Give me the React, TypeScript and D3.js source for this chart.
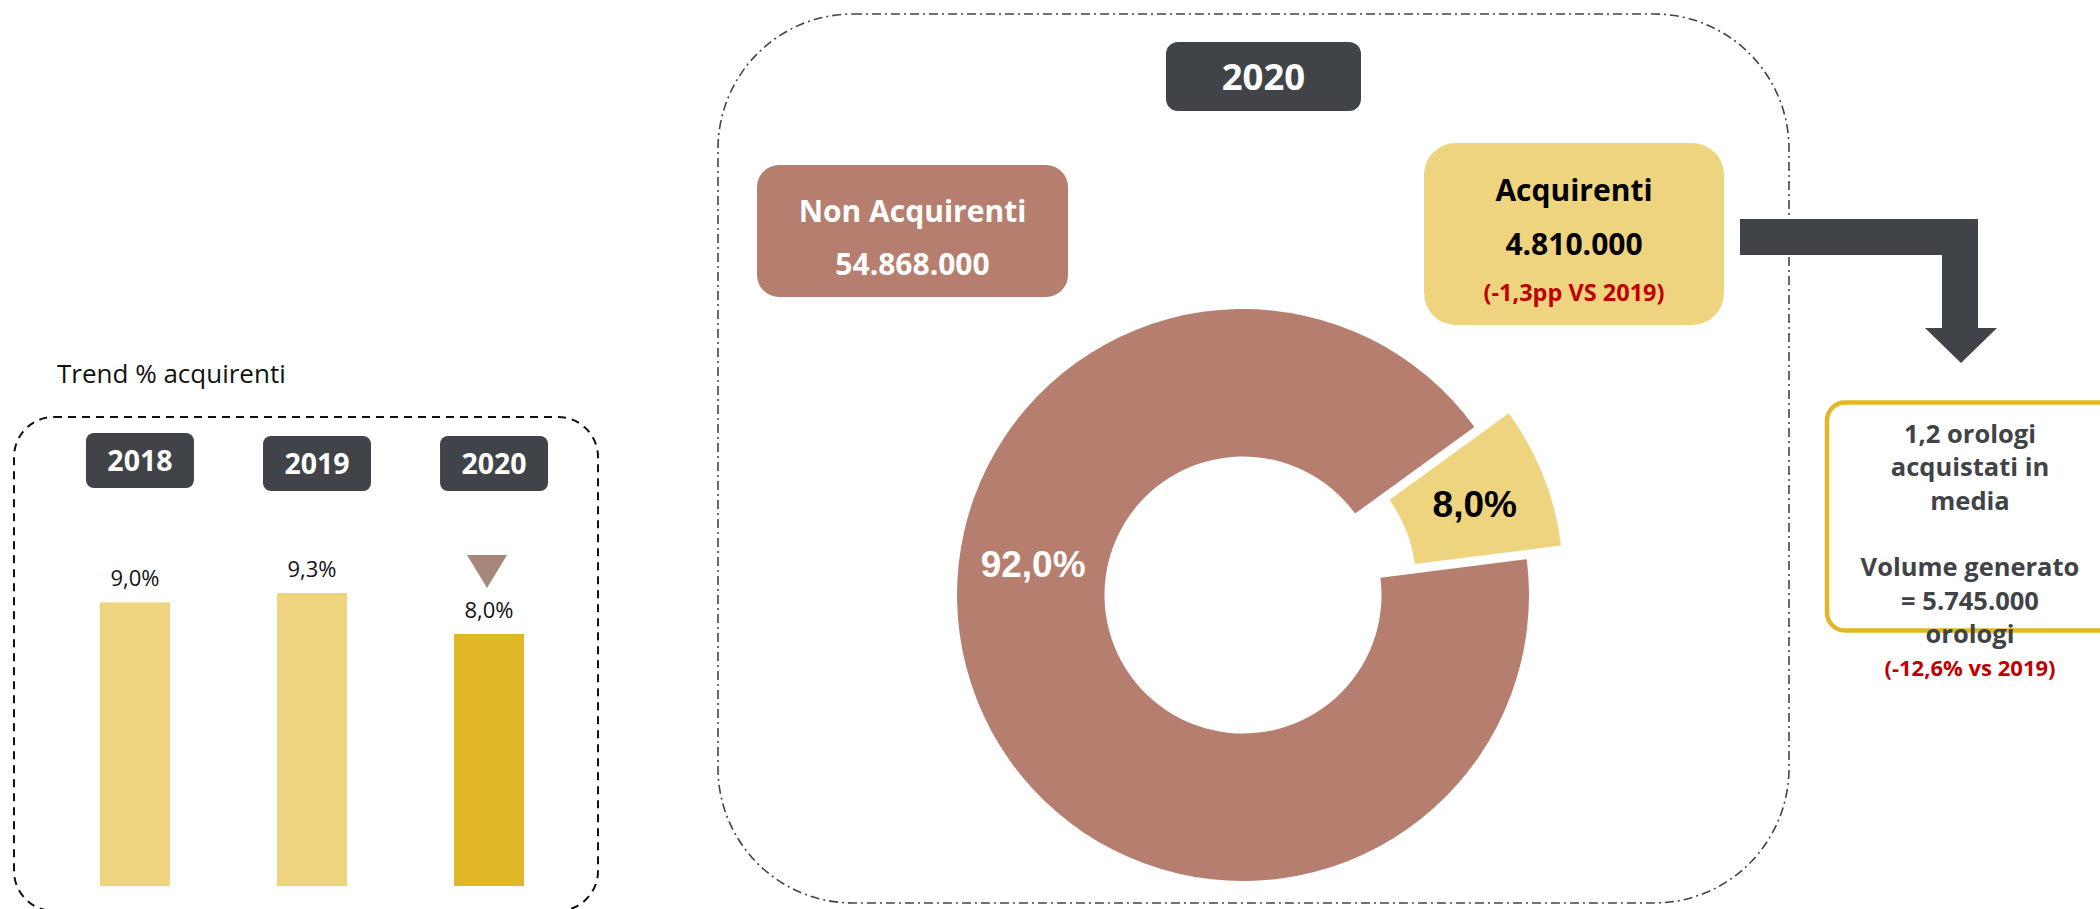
import React, { useEffect, useRef } from "react";
import * as d3 from "d3";

// trend bars
const years = ["2018", "2019", "2020"];
const buyerShare = [9.0, 9.3, 8.0];
const shareLabels = ["9,0%", "9,3%", "8,0%"];

// donut 2020
const donutNames = ["Acquirenti", "Non Acquirenti"];
const donutValues = [8.0, 92.0];
const donutLabels = ["8,0%", "92,0%"];
const donutCounts = ["4.810.000", "54.868.000"];
const buyersDelta = "(-1,3pp VS 2019)";

// volume note
const volumeLines = ["1,2 orologi", "acquistati in", "media", "", "Volume generato", "= 5.745.000", "orologi"];
const volumeDelta = "(-12,6% vs 2019)";

const W = 2100;
const H = 909;
const DARK = "#404347";
const BROWN = "#b67e6e";
const SAND = "#eed47e";
const GOLD = "#e0b726";
const RED = "#c00000";
const UI_FONT = "'Open Sans', 'Noto Sans', sans-serif";
const ARIAL = "'Liberation Sans', Arial, sans-serif";

export default function App() {
  const svgRef = useRef<SVGSVGElement>(null);

  useEffect(() => {
    const svg = d3.select(svgRef.current);
    svg.selectAll("*").remove();

    //---- left panel: trend % acquirenti
    svg
      .append("text")
      .attr("x", 57)
      .attr("y", 383)
      .attr("font-family", UI_FONT)
      .attr("font-size", 26)
      .attr("fill", "#111")
      .text("Trend % acquirenti");

    svg
      .append("rect")
      .attr("x", 14)
      .attr("y", 417)
      .attr("width", 584)
      .attr("height", 494)
      .attr("rx", 40)
      .attr("fill", "none")
      .attr("stroke", "#111")
      .attr("stroke-width", 2)
      .attr("stroke-dasharray", "8 6");

    const xScale = d3.scaleBand().domain(years).range([100, 524]).paddingInner(0.605);
    const yScale = d3.scaleLinear().domain([0, 9.3]).range([886, 593]);
    const bw = xScale.bandwidth();

    // year badges
    const badges = svg
      .selectAll(".badge")
      .data(years)
      .join("g")
      .attr("class", "badge")
      .attr("transform", (d, i) => `translate(${xScale(d)! + bw / 2 + 5}, ${i === 0 ? 433 : 436})`);
    badges
      .append("rect")
      .attr("x", -54)
      .attr("width", 108)
      .attr("height", 55)
      .attr("rx", 8)
      .attr("fill", DARK);
    badges
      .append("text")
      .attr("y", 27.5)
      .attr("dy", "0.36em")
      .attr("text-anchor", "middle")
      .attr("font-family", UI_FONT)
      .attr("font-weight", 700)
      .attr("font-size", 28.5)
      .attr("fill", "#fff")
      .text((d) => d);

    // bars
    svg
      .selectAll(".bar")
      .data(buyerShare)
      .join("rect")
      .attr("class", "bar")
      .attr("x", (v, i) => xScale(years[i])!)
      .attr("y", (v) => yScale(v))
      .attr("width", bw)
      .attr("height", (v) => yScale(0) - yScale(v))
      .attr("fill", (v, i) => (i === years.length - 1 ? GOLD : SAND));

    svg
      .selectAll(".val")
      .data(buyerShare)
      .join("text")
      .attr("class", "val")
      .attr("x", (v, i) => xScale(years[i])! + bw / 2)
      .attr("y", (v) => yScale(v) - 16)
      .attr("text-anchor", "middle")
      .attr("font-family", UI_FONT)
      .attr("font-size", 22)
      .attr("fill", "#111")
      .text((v, i) => shareLabels[i]);

    // decline marker over last year
    const last = buyerShare.length - 1;
    const tx = xScale(years[last])! + bw / 2 - 2;
    const tip = yScale(buyerShare[last]) - 16 - 30;
    svg
      .append("path")
      .attr("d", `M${tx - 20},${tip - 33}L${tx + 20},${tip - 33}L${tx},${tip}Z`)
      .attr("fill", "#a8877b");

    //---- middle panel: donut 2020
    svg
      .append("rect")
      .attr("x", 718)
      .attr("y", 14)
      .attr("width", 1071)
      .attr("height", 889)
      .attr("rx", 135)
      .attr("fill", "none")
      .attr("stroke", "#444")
      .attr("stroke-width", 1.6)
      .attr("stroke-dasharray", "9 4 2 4");

    svg
      .append("rect")
      .attr("x", 1166)
      .attr("y", 42)
      .attr("width", 195)
      .attr("height", 69)
      .attr("rx", 12)
      .attr("fill", DARK);
    svg
      .append("text")
      .attr("x", 1263.5)
      .attr("y", 76.5)
      .attr("dy", "0.36em")
      .attr("text-anchor", "middle")
      .attr("font-family", UI_FONT)
      .attr("font-weight", 700)
      .attr("font-size", 36.5)
      .attr("fill", "#fff")
      .text(years[last]);

    // Non Acquirenti box
    svg
      .append("rect")
      .attr("x", 757)
      .attr("y", 165)
      .attr("width", 311)
      .attr("height", 132)
      .attr("rx", 22)
      .attr("fill", BROWN);
    svg
      .append("g")
      .selectAll("text")
      .data([donutNames[1], donutCounts[1]])
      .join("text")
      .attr("x", 912.5)
      .attr("y", (d, i) => 221.5 + i * 53.5)
      .attr("text-anchor", "middle")
      .attr("font-family", UI_FONT)
      .attr("font-weight", 700)
      .attr("font-size", 30)
      .attr("fill", "#fff")
      .text((d) => d);

    // Acquirenti box
    svg
      .append("rect")
      .attr("x", 1424)
      .attr("y", 143)
      .attr("width", 300)
      .attr("height", 182)
      .attr("rx", 32)
      .attr("fill", SAND);
    svg
      .append("g")
      .selectAll("text")
      .data([donutNames[0], donutCounts[0]])
      .join("text")
      .attr("x", 1574)
      .attr("y", (d, i) => 200.5 + i * 54)
      .attr("text-anchor", "middle")
      .attr("font-family", UI_FONT)
      .attr("font-weight", 700)
      .attr("font-size", 30)
      .attr("fill", "#000")
      .text((d) => d);
    svg
      .append("text")
      .attr("x", 1574)
      .attr("y", 301)
      .attr("text-anchor", "middle")
      .attr("font-family", UI_FONT)
      .attr("font-weight", 700)
      .attr("font-size", 23.5)
      .attr("fill", RED)
      .text(buyersDelta);

    // donut
    const cx = 1243;
    const cy = 595;
    const outerR = 286;
    const innerR = 138.5;
    const explode = 37;
    const start = (54 * Math.PI) / 180;
    const pie = d3
      .pie<number>()
      .sort(null)
      .startAngle(start)
      .endAngle(start + 2 * Math.PI);
    const arcs = pie(donutValues);
    const arc = d3.arc<d3.PieArcDatum<number>>().innerRadius(innerR).outerRadius(outerR);

    const donut = svg.append("g").attr("transform", `translate(${cx},${cy})`);
    const shift = (a: d3.PieArcDatum<number>, i: number) => {
      const m = (a.startAngle + a.endAngle) / 2;
      const e = i === 0 ? explode : 0;
      return [Math.sin(m) * e, -Math.cos(m) * e];
    };
    donut
      .selectAll("path")
      .data(arcs)
      .join("path")
      .attr("d", arc)
      .attr("transform", (a, i) => `translate(${shift(a, i).join(",")})`)
      .attr("fill", (a, i) => (i === 0 ? SAND : BROWN));

    // label angle for the large slice sits at the left of the ring
    const labelAngles = [null, (278.6 * Math.PI) / 180];
    const midR = (innerR + outerR) / 2;
    donut
      .selectAll(".plabel")
      .data(arcs)
      .join("text")
      .attr("class", "plabel")
      .attr("transform", (a, i) => {
        const t = labelAngles[i];
        if (t == null) {
          const [px, py] = arc.centroid(a);
          const [sx, sy] = shift(a, i);
          return `translate(${px + sx},${py + sy})`;
        }
        return `translate(${Math.sin(t) * midR},${-Math.cos(t) * midR})`;
      })
      .attr("dy", "0.36em")
      .attr("text-anchor", "middle")
      .attr("font-family", ARIAL)
      .attr("font-weight", 700)
      .attr("font-size", 37)
      .attr("fill", (a, i) => (i === 0 ? "#000" : "#fff"))
      .text((a, i) => donutLabels[i]);

    //---- right: arrow and volume note
    svg
      .append("path")
      .attr(
        "d",
        "M1740,219L1978,219L1978,328L1997,328L1961,363L1925,328L1942,328L1942,255L1740,255Z"
      )
      .attr("fill", DARK);

    svg
      .append("rect")
      .attr("x", 1827)
      .attr("y", 402.5)
      .attr("width", 320)
      .attr("height", 228)
      .attr("rx", 18)
      .attr("fill", "#fff")
      .attr("stroke", GOLD)
      .attr("stroke-width", 4.5);

    svg
      .append("g")
      .selectAll("text")
      .data(volumeLines)
      .join("text")
      .attr("x", 1970)
      .attr("y", (d, i) => 443 + i * 33.3)
      .attr("text-anchor", "middle")
      .attr("font-family", UI_FONT)
      .attr("font-weight", 700)
      .attr("font-size", 25.5)
      .attr("fill", DARK)
      .text((d) => d);
    svg
      .append("text")
      .attr("x", 1970)
      .attr("y", 676)
      .attr("text-anchor", "middle")
      .attr("font-family", UI_FONT)
      .attr("font-weight", 700)
      .attr("font-size", 22)
      .attr("fill", RED)
      .text(volumeDelta);
  }, []);

  return (
    <div>
      <svg
        ref={svgRef}
        width={W}
        height={H}
        style={{ position: "absolute", left: 0, top: 0, background: "#fff" }}
      ></svg>
    </div>
  );
}
